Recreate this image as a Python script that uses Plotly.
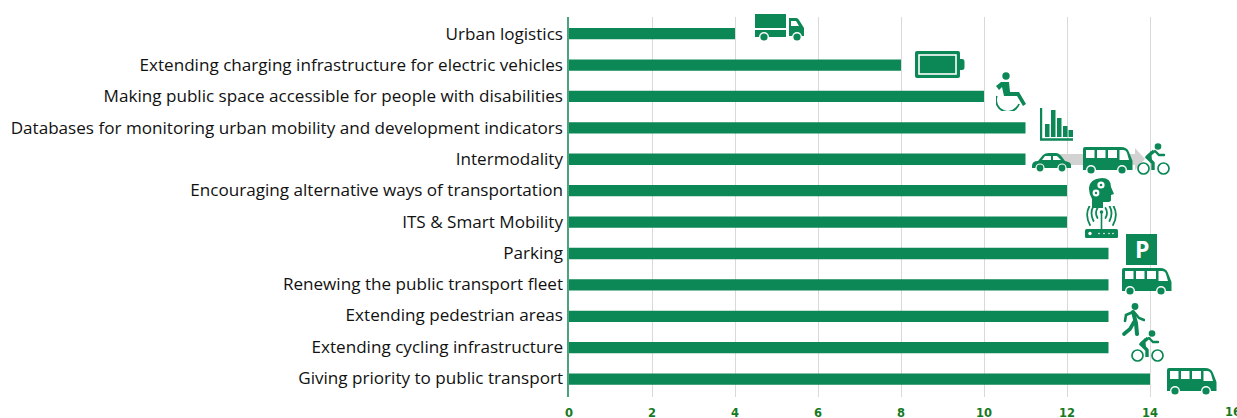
import base64
import plotly.graph_objects as go

categories = ["Urban logistics", "Extending charging infrastructure for electric vehicles",
              "Making public space accessible for people with disabilities",
              "Databases for monitoring urban mobility and development indicators",
              "Intermodality", "Encouraging alternative ways of transportation",
              "ITS & Smart Mobility", "Parking", "Renewing the public transport fleet",
              "Extending pedestrian areas", "Extending cycling infrastructure",
              "Giving priority to public transport"]
values = [4, 8, 10, 11, 11, 12, 12, 13, 13, 13, 13, 14]
tick_values = [0, 2, 4, 6, 8, 10, 12, 14, 16]

G = "#0c8756"
W, H = 1237, 418
L, R, T, B = 569, 4, 17, 21
PW, PH = W - L - R, H - T - B

BUS = f'''<path d="M2 0H38Q44 0 46 5L49.5 14V23H0V2Q0 0 2 0Z" fill="{G}"/>
<g fill="#fff"><rect x="3" y="3" width="8.5" height="8"/><rect x="14" y="3" width="8.5" height="8"/><rect x="25" y="3" width="9" height="8"/><path d="M36.5 3H40Q43 3 44 6L46 13H36.5Z"/>
<circle cx="8" cy="23" r="5"/><circle cx="39" cy="23" r="5"/></g>
<circle cx="8" cy="23" r="3.6" fill="{G}"/><circle cx="39" cy="23" r="3.6" fill="{G}"/>'''
TRUCK = f'''<rect x="0" y="0" width="31" height="14" fill="{G}"/><rect x="0" y="16" width="31" height="7" fill="{G}"/>
<path d="M34 4H41Q43 4 44 6L49 14V22H34Z" fill="{G}"/><path d="M36 7H41L44 12H36Z" fill="#fff"/>
<g fill="#fff"><circle cx="9" cy="23" r="5"/><circle cx="42" cy="23" r="5"/></g>
<circle cx="9" cy="23" r="3.6" fill="{G}"/><circle cx="42" cy="23" r="3.6" fill="{G}"/>'''
BATTERY = f'''<rect x="0" y="0" width="45" height="27" rx="2" fill="{G}"/><rect x="4" y="4" width="37" height="19" fill="{G}" stroke="#fff" stroke-width="1.6"/>
<path d="M45 8H47Q49.5 8 49.5 11V16Q49.5 19 47 19H45Z" fill="{G}"/>'''
WHEELCHAIR = f'''<circle cx="10" cy="4" r="3.7" fill="{G}"/>
<path d="M0 14L5 10H13L14 20H23L30 32L27 34L21 24H8L6 15L3 18Z" fill="{G}"/>
<path d="M0.8 24A11.5 11.5 0 0 0 23 32" fill="none" stroke="{G}" stroke-width="1.8"/>'''
CHART = f'''<path d="M1 0V31.5H33" fill="none" stroke="{G}" stroke-width="2.4"/>
<g fill="{G}"><rect x="5" y="16" width="4.5" height="13"/><rect x="11" y="2" width="4.5" height="27"/><rect x="17" y="10" width="4.5" height="19"/><rect x="23" y="18" width="4.5" height="11"/><rect x="28.5" y="22" width="4.5" height="7"/></g>'''
CAR = f'''<path d="M0 13Q0 8 6 8L11 2Q13 0 17 0H24Q27 0 30 4L33 8Q39 9 39 12V15H0Z" fill="{G}"/>
<g fill="#fff"><path d="M13 3H19V7H10Z"/><path d="M21 3H25L29 7H21Z"/><circle cx="8" cy="15" r="4.6"/><circle cx="30" cy="15" r="4.6"/></g>
<circle cx="8" cy="15" r="3.4" fill="{G}"/><circle cx="30" cy="15" r="3.4" fill="{G}"/>'''
CYCLE = f'''<circle cx="6.5" cy="25.5" r="5.5" fill="none" stroke="{G}" stroke-width="1.7"/><circle cx="26.5" cy="25.5" r="5.5" fill="none" stroke="{G}" stroke-width="1.7"/>
<circle cx="21" cy="3.5" r="3.3" fill="{G}"/><path d="M17 8L10 14L16 20V27" fill="none" stroke="{G}" stroke-width="3.4" stroke-linejoin="round"/>
<path d="M18 8L22 12L27 12" fill="none" stroke="{G}" stroke-width="2.4" stroke-linecap="round"/><path d="M8 15L14 8L15 17Z" fill="{G}"/>'''
WALKER = f'''<circle cx="13" cy="3.5" r="3.4" fill="{G}"/><path d="M11 9L14 20L15 31" fill="none" stroke="{G}" stroke-width="4" stroke-linecap="round"/>
<path d="M12 19L8 26L2 31" fill="none" stroke="{G}" stroke-width="3.6" stroke-linecap="round"/>
<path d="M11 9L4 12L3 18" fill="none" stroke="{G}" stroke-width="2.6" stroke-linecap="round"/><path d="M12 9L17 15L22 17" fill="none" stroke="{G}" stroke-width="2.6" stroke-linecap="round"/>'''
HEAD = f'''<path d="M13 0Q22 0 22 9L25 16L22 17V22Q22 24 18 24H14V30H3V21Q0 16 0 11Q0 1 13 0Z" fill="{G}"/>
<g fill="#fff"><circle cx="12" cy="7" r="3.6"/><circle cx="7" cy="15" r="3.4"/></g>
<g fill="{G}"><circle cx="12" cy="7" r="1.3"/><circle cx="7" cy="15" r="1.2"/></g>'''
WIFI = f'''<rect x="0" y="23" width="33" height="9" rx="1.5" fill="{G}"/>
<g fill="#fff"><circle cx="5" cy="27.5" r="1.7"/><circle cx="14" cy="27.5" r=".8"/><circle cx="19" cy="27.5" r=".8"/><circle cx="24" cy="27.5" r=".8"/><circle cx="28" cy="27.5" r=".8"/></g>
<path d="M16.5 6V23" stroke="{G}" stroke-width="1.6"/><circle cx="16.5" cy="6" r="1.8" fill="{G}"/>
<g fill="none" stroke="{G}" stroke-width="1.8" stroke-linecap="round"><path d="M12.5 2Q9.5 7 12.5 12"/><path d="M20.5 2Q23.5 7 20.5 12"/><path d="M8.5 0Q4.5 7 8.5 15"/><path d="M24.5 0Q28.5 7 24.5 15"/><path d="M4.5 0Q-.5 9 5 19"/><path d="M28.5 0Q33.5 9 28 19"/></g>'''
SQUARE = f'<rect x="0" y="0" width="31" height="31" fill="{G}"/>'
ARROW = '<path d="M0 6H75V0L85 11L75 22V17H0Z" fill="#d2d2d2"/>'

def icon(svg, x0, y0, w, h):
    doc = f'<svg xmlns="http://www.w3.org/2000/svg" width="{w*4}" height="{h*4}" viewBox="0 0 {w} {h}">{svg}</svg>'
    return dict(source="data:image/svg+xml;base64," + base64.b64encode(doc.encode()).decode(),
                xref="paper", yref="paper", xanchor="left", yanchor="top",
                x=(x0 - L) / PW, y=1 - (y0 - T) / PH, sizex=w / PW, sizey=h / PH,
                sizing="stretch", layer="above")

images = [
    icon(TRUCK, 755, 14, 50, 28), icon(BATTERY, 915, 51, 50, 27), icon(WHEELCHAIR, 996, 72, 32, 39),
    icon(CHART, 1040, 108, 33, 33), icon(ARROW, 1060, 148, 85, 22), icon(CAR, 1032, 153, 39, 19),
    icon(BUS, 1083, 147, 50, 28), icon(CYCLE, 1137, 143, 33, 32), icon(HEAD, 1089, 178, 25, 30),
    icon(WIFI, 1085, 206, 33, 32), icon(SQUARE, 1126, 234, 31, 31), icon(BUS, 1122, 268, 50, 28),
    icon(WALKER, 1122, 303, 23, 33), icon(CYCLE, 1131, 330, 33, 32), icon(BUS, 1167, 368, 50, 28),
]

tick_font = dict(family="DejaVu Sans", size=11.5, color="#167a1e", weight="bold")
fig = go.Figure()
fig.add_bar(y=categories, x=values, orientation="h", marker=dict(color=G, line_width=0), width=0.36, yaxis="y")
# Same categories on an invisible overlay axis that carries the labels at their own spacing
fig.add_bar(y=categories, x=values, orientation="h", opacity=0, yaxis="y2", hoverinfo="skip")
fig.update_layout(
    width=W, height=H, autosize=False, margin=dict(l=L, r=R, t=T, b=B, pad=0), barmode="overlay",
    plot_bgcolor="#fff", paper_bgcolor="#fff", showlegend=False, images=images,
    annotations=[dict(text="<b>P</b>", xref="paper", yref="paper", xanchor="center", yanchor="middle",
                      x=(1141.5 - L) / PW, y=1 - (249.5 - T) / PH,
                      showarrow=False, font=dict(family="Open Sans", size=23, color="#fff")),
                 dict(text=str(tick_values[-1]), xref="x", yref="paper", x=tick_values[-1], y=0, xanchor="center",
                      yanchor="top", yshift=-7, showarrow=False, font=tick_font, borderpad=0)],
    xaxis=dict(range=[0, 16], tickvals=tick_values, showgrid=True, gridcolor="#d9d9d9", gridwidth=1, zeroline=False,
               showline=False, tickfont=tick_font, ticks="", ticklabelstandoff=7, automargin=False),
    yaxis=dict(categoryorder="array", categoryarray=categories, range=[11.57, -0.53], showline=True, linecolor="#4ba37e",
               linewidth=2, ticks="", showticklabels=False, showgrid=False, automargin=False),
    yaxis2=dict(overlaying="y", anchor="x", side="left", categoryorder="array", categoryarray=categories,
                range=[11.607, -0.537], ticks="", showgrid=False, showline=False, automargin=False,
                tickfont=dict(family="Open Sans", size=17.1, color="#111111"), ticklabelstandoff=5),
)
fig.write_html("out.html", config=dict(displayModeBar=False),
               post_script="document.body.style.margin='0';")
